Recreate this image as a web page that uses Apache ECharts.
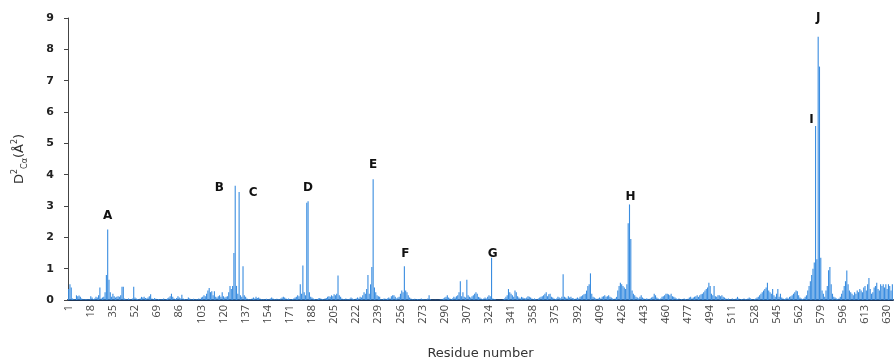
<!DOCTYPE html>
<html>
<head>
<meta charset="utf-8">
<script src="https://cdn.jsdelivr.net/npm/echarts@6/dist/echarts.min.js"></script>
<style>
html,body{margin:0;padding:0;background:#fff;}
#main{width:894px;height:363px;}
</style>
</head>
<body>
<div id="main"></div>
<script>
// D2 values per residue, residue 1..634
var d2Values = [
	0.35,0.5,0.4,0.05,0.03,0.02,0.15,0.12,0.14,0.1,0.05,0.03,0.02,0.02,0.03,0.02,0.02,0.12,0.08,0.03,
	0.05,0.1,0.08,0.15,0.4,0.05,0.08,0.1,0.25,0.8,2.25,0.65,0.25,0.1,0.2,0.12,0.08,0.1,0.12,0.1,
	0.15,0.42,0.42,0.05,0.03,0.02,0.05,0.03,0.02,0.05,0.42,0.08,0.05,0.03,0.02,0.05,0.1,0.08,0.1,0.06,
	0.05,0.08,0.12,0.18,0.05,0.03,0.06,0.04,0.02,0.03,0.02,0.03,0.02,0.05,0.02,0.03,0.05,0.08,0.12,0.2,
	0.1,0.05,0.03,0.06,0.12,0.08,0.05,0.17,0.05,0.03,0.02,0.03,0.08,0.05,0.03,0.02,0.04,0.02,0.03,0.02,
	0.05,0.03,0.08,0.1,0.15,0.12,0.2,0.3,0.38,0.25,0.28,0.15,0.28,0.1,0.08,0.12,0.15,0.1,0.25,0.12,
	0.08,0.1,0.12,0.25,0.45,0.35,0.45,1.5,3.65,0.45,0.2,3.45,0.15,0.1,1.08,0.15,0.1,0.05,0.03,0.02,
	0.03,0.05,0.08,0.05,0.1,0.06,0.08,0.05,0.03,0.02,0.03,0.02,0.04,0.02,0.03,0.05,0.08,0.05,0.03,0.02,
	0.04,0.03,0.02,0.05,0.08,0.1,0.08,0.05,0.03,0.05,0.03,0.02,0.03,0.05,0.08,0.1,0.15,0.12,0.5,0.2,
	1.1,0.25,0.15,3.1,3.15,0.25,0.1,0.08,0.05,0.03,0.02,0.03,0.05,0.06,0.04,0.03,0.02,0.05,0.06,0.1,
	0.12,0.1,0.15,0.12,0.18,0.15,0.2,0.78,0.15,0.1,0.05,0.03,0.02,0.05,0.03,0.02,0.04,0.08,0.05,0.03,
	0.02,0.05,0.08,0.05,0.1,0.08,0.15,0.25,0.2,0.35,0.8,0.2,0.5,1.05,3.85,0.4,0.25,0.15,0.12,0.1,
	0.03,0.02,0.04,0.05,0.03,0.05,0.08,0.05,0.12,0.15,0.15,0.1,0.05,0.08,0.1,0.2,0.3,0.25,1.08,0.3,
	0.25,0.15,0.08,0.05,0.03,0.02,0.04,0.02,0.03,0.02,0.03,0.05,0.02,0.03,0.02,0.02,0.05,0.15,0.02,0.01,
	0.01,0.01,0.01,0.01,0.01,0.01,0.02,0.03,0.05,0.08,0.1,0.15,0.08,0.05,0.03,0.05,0.1,0.08,0.12,0.15,
	0.25,0.6,0.12,0.25,0.1,0.08,0.65,0.15,0.1,0.08,0.12,0.15,0.2,0.25,0.2,0.1,0.08,0.05,0.03,0.05,
	0.08,0.05,0.1,0.15,0.12,1.35,0.05,0.03,0.02,0.01,0.01,0.01,0.01,0.01,0.02,0.05,0.1,0.15,0.35,0.25,
	0.2,0.15,0.1,0.3,0.25,0.12,0.08,0.05,0.1,0.08,0.06,0.05,0.08,0.12,0.1,0.08,0.05,0.03,0.05,0.03,
	0.02,0.05,0.08,0.1,0.12,0.15,0.2,0.25,0.12,0.18,0.2,0.1,0.08,0.05,0.03,0.05,0.1,0.08,0.05,0.1,
	0.82,0.1,0.08,0.05,0.12,0.08,0.1,0.06,0.05,0.03,0.05,0.08,0.05,0.1,0.12,0.15,0.18,0.2,0.3,0.45,
	0.5,0.85,0.2,0.1,0.08,0.05,0.03,0.05,0.08,0.05,0.1,0.12,0.15,0.1,0.12,0.15,0.1,0.08,0.05,0.03,
	0.05,0.1,0.3,0.45,0.55,0.5,0.45,0.4,0.35,0.5,2.45,3.05,1.95,0.3,0.2,0.15,0.1,0.08,0.05,0.1,
	0.15,0.08,0.05,0.03,0.05,0.04,0.03,0.05,0.08,0.1,0.2,0.15,0.08,0.05,0.03,0.05,0.1,0.12,0.15,0.2,
	0.2,0.18,0.15,0.2,0.12,0.1,0.08,0.05,0.03,0.05,0.02,0.03,0.02,0.05,0.03,0.02,0.04,0.08,0.1,0.05,
	0.08,0.1,0.12,0.15,0.1,0.15,0.18,0.2,0.25,0.3,0.35,0.4,0.55,0.45,0.2,0.15,0.45,0.12,0.1,0.15,
	0.15,0.12,0.15,0.1,0.08,0.05,0.03,0.05,0.02,0.03,0.05,0.02,0.03,0.05,0.1,0.05,0.02,0.03,0.02,0.05,
	0.03,0.02,0.05,0.08,0.05,0.03,0.02,0.03,0.05,0.08,0.1,0.15,0.2,0.25,0.3,0.35,0.4,0.55,0.3,0.25,
	0.2,0.35,0.15,0.1,0.2,0.35,0.1,0.2,0.08,0.05,0.03,0.05,0.08,0.05,0.1,0.12,0.15,0.2,0.25,0.3,
	0.28,0.15,0.08,0.05,0.03,0.05,0.1,0.15,0.3,0.45,0.6,0.8,1.0,1.2,5.55,1.3,8.4,7.45,1.35,0.3,
	0.2,0.1,0.3,0.45,0.95,1.05,0.5,0.2,0.1,0.08,0.05,0.03,0.05,0.1,0.2,0.3,0.45,0.6,0.94,0.5,
	0.3,0.25,0.2,0.15,0.25,0.2,0.3,0.25,0.35,0.3,0.25,0.4,0.45,0.3,0.5,0.7,0.35,0.2,0.25,0.4,
	0.45,0.55,0.35,0.3,0.5,0.45,0.5,0.4,0.5,0.35,0.5,0.45,0.3,0.5
];
// peak labels and the residue they belong to
var peakNames = ['A','B','C','D','E','F','G','H','I','J'];
var peakResidues = [31,129,132,185,235,259,326,432,575,577];

// residue numbers for the category axis
var residues = [];
for (var i = 0; i < d2Values.length; i++) {
	residues.push(String(i + 1));
}

// label offsets (px) from the top of each peak bar
var peakOffsets = {
	A:[0,-14], B:[-16,2], C:[14,1], D:[0,-13], E:[0,-14],
	F:[1,-12], G:[1,-4], H:[1,-8], I:[-4,-6], J:[0,-19]
};

var markData = [];
for (var k = 0; k < peakNames.length; k++) {
	var idx = peakResidues[k] - 1;
	markData.push({
		name: peakNames[k],
		coord: [residues[idx], d2Values[idx]],
		label: {offset: peakOffsets[peakNames[k]]}
	});
}

var chart = echarts.init(document.getElementById('main'), null, {renderer:'canvas'});
var option = {
	animation: false,
	textStyle: {fontFamily: 'DejaVu Sans'},
	grid: {left: 68, right: 1, top: 18, bottom: 63, containLabel: false, outerBoundsMode: 'none'},
	xAxis: {
		type: 'category',
		data: residues,
		name: 'Residue number',
		nameLocation: 'middle',
		nameGap: 47,
		nameTextStyle: {fontSize: 13, color: '#333'},
		axisLine: {lineStyle: {color: '#1d3557', width: 2}},
		axisTick: {show: false},
		axisLabel: {interval: 16, rotate: 90, fontSize: 11, color: '#444', margin: 5, fontFamily: 'Open Sans'}
	},
	yAxis: {
		type: 'value',
		min: 0,
		max: 9,
		interval: 1,
		name: '{m|D}{p|2}{s|Cα}{m|(Å}{p|2}{m|)}',
		nameLocation: 'middle',
		nameGap: 39,
		nameTextStyle: {
			rich: {
				m: {fontSize: 13, color: '#333', lineHeight: 18, verticalAlign: 'middle'},
				p: {fontSize: 8, color: '#333', lineHeight: 18, verticalAlign: 'top'},
				s: {fontSize: 8, color: '#333', lineHeight: 18, verticalAlign: 'bottom'}
			}
		},
		splitLine: {show: false},
		axisLine: {show: true, lineStyle: {color: '#444', width: 1}},
		axisTick: {show: true, length: 4, lineStyle: {color: '#444'}},
		axisLabel: {fontSize: 11, fontWeight: 'bold', color: '#222', margin: 14}
	},
	series: [{
		type: 'bar',
		data: d2Values,
		barCategoryGap: '15%',
		itemStyle: {color: '#3a8de0'},
		markPoint: {
			symbol: 'circle',
			symbolSize: 0,
			label: {
				show: true,
				formatter: '{b}',
				fontSize: 12,
				fontWeight: 'bold',
				color: '#111'
			},
			data: markData
		}
	}]
};
chart.setOption(option);
</script>
</body>
</html>
